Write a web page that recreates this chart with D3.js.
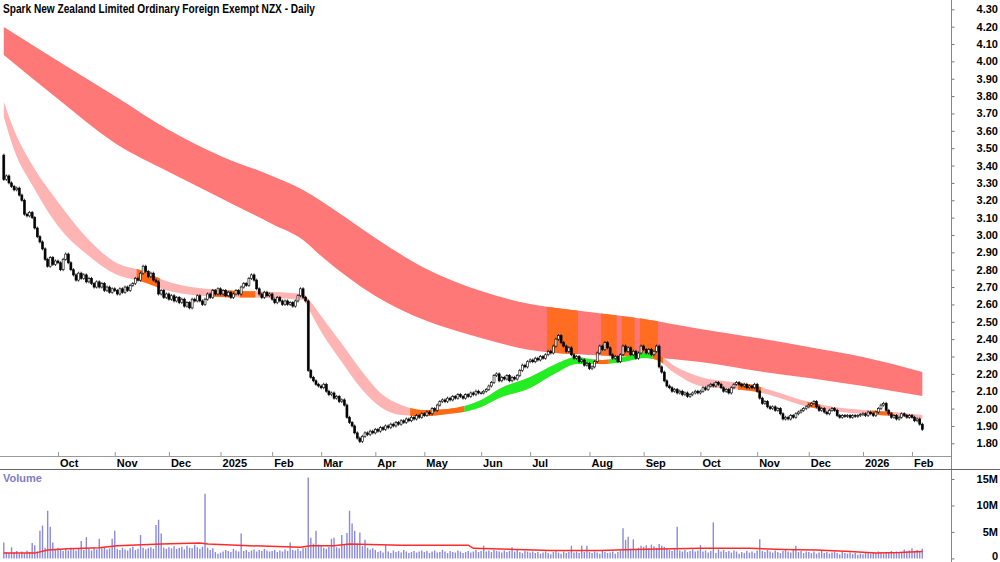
<!DOCTYPE html>
<html>
<head>
<meta charset="utf-8">
<script src="https://cdn.jsdelivr.net/npm/d3@7"></script>
<style>
  body { margin: 0; background: #fff; }
  svg { display: block; font-family: "Liberation Sans", Arial, sans-serif; }
</style>
</head>
<body>
<svg id="chart" width="1000" height="562"></svg>
<script>
// ---- data ----
var title = 'Spark New Zealand Limited Ordinary Foreign Exempt NZX - Daily';
var startDate = '2024-09-02', endDate = '2026-02-09';
var holidays = ['2024-10-28', '2024-12-25', '2024-12-26', '2025-01-01', '2025-01-02', '2025-01-27',
  '2025-02-06', '2025-04-18', '2025-04-21', '2025-04-25', '2025-06-02', '2025-06-20', '2025-10-27',
  '2025-12-25', '2025-12-26', '2026-01-01', '2026-01-02', '2026-01-26', '2026-02-06'];

var firstOpen = 3.46;
var closes = [
  // Sep 24
  3.32, 3.34, 3.30, 3.28, 3.26, 3.27, 3.23, 3.20, 3.12, 3.11, 3.13, 3.10, 3.04, 2.99, 2.96, 2.92, 2.86, 2.82, 2.87, 2.83, 2.85,
  // Oct
  2.84, 2.80, 2.86, 2.89, 2.84, 2.80, 2.77, 2.74, 2.78, 2.75, 2.77, 2.73, 2.75, 2.72, 2.70, 2.73, 2.70, 2.72, 2.68, 2.70, 2.67, 2.69,
  // Nov
  2.68, 2.66, 2.69, 2.67, 2.70, 2.68, 2.71, 2.72, 2.75, 2.74, 2.78, 2.82, 2.79, 2.76, 2.78, 2.74, 2.73, 2.66, 2.68, 2.64, 2.66,
  // Dec
  2.63, 2.65, 2.62, 2.64, 2.61, 2.63, 2.59, 2.61, 2.58, 2.63, 2.62, 2.65, 2.62, 2.60, 2.63, 2.66, 2.64, 2.68, 2.66, 2.69,
  // Jan 25
  2.66, 2.68, 2.65, 2.67, 2.64, 2.66, 2.68, 2.66, 2.70, 2.72, 2.71, 2.75, 2.77, 2.74, 2.69, 2.66, 2.64, 2.67, 2.65, 2.66,
  // Feb
  2.63, 2.61, 2.64, 2.62, 2.60, 2.62, 2.60, 2.61, 2.59, 2.62, 2.65, 2.69, 2.64, 2.62, 2.22, 2.18, 2.16, 2.14, 2.13,
  // Mar
  2.12, 2.14, 2.10, 2.08, 2.09, 2.06, 2.07, 2.04, 2.05, 2.02, 1.95, 1.92, 1.90, 1.86, 1.83, 1.81, 1.84, 1.86, 1.85, 1.87, 1.86,
  // Apr
  1.88, 1.87, 1.89, 1.88, 1.90, 1.89, 1.91, 1.90, 1.92, 1.91, 1.93, 1.92, 1.94, 1.93, 1.95, 1.94, 1.96, 1.95, 1.97,
  // May
  1.96, 1.98, 1.97, 2.00, 1.99, 2.02, 2.04, 2.05, 2.04, 2.06, 2.05, 2.07, 2.06, 2.08, 2.07, 2.06, 2.08, 2.07, 2.09, 2.08, 2.10, 2.09,
  // Jun
  2.09, 2.10, 2.11, 2.13, 2.15, 2.19, 2.20, 2.16, 2.18, 2.17, 2.19, 2.16, 2.18, 2.17, 2.19, 2.22, 2.25, 2.24, 2.27,
  // Jul
  2.28, 2.27, 2.29, 2.28, 2.30, 2.29, 2.31, 2.33, 2.32, 2.36, 2.40, 2.42, 2.38, 2.36, 2.33, 2.35, 2.31, 2.29, 2.30, 2.27, 2.28, 2.25, 2.26,
  // Aug
  2.23, 2.24, 2.27, 2.32, 2.36, 2.34, 2.38, 2.35, 2.31, 2.29, 2.30, 2.27, 2.31, 2.36, 2.33, 2.35, 2.31, 2.33, 2.29, 2.32, 2.36,
  // Sep
  2.34, 2.32, 2.34, 2.31, 2.33, 2.36, 2.24, 2.21, 2.16, 2.13, 2.12, 2.10, 2.11, 2.09, 2.10, 2.08, 2.09, 2.07, 2.08, 2.09, 2.10, 2.09,
  // Oct
  2.10, 2.12, 2.11, 2.13, 2.14, 2.13, 2.15, 2.14, 2.12, 2.10, 2.11, 2.09, 2.12, 2.14, 2.15, 2.14, 2.13, 2.14, 2.12, 2.13, 2.12, 2.14,
  // Nov
  2.10, 2.06, 2.03, 2.04, 2.01, 2.00, 2.01, 1.99, 2.00, 1.97, 1.94, 1.95, 1.94, 1.96, 1.95, 1.97, 1.98, 1.99, 2.00, 2.01,
  // Dec
  2.02, 2.03, 2.04, 2.01, 1.99, 2.00, 1.98, 1.97, 1.99, 2.00, 1.99, 1.96, 1.95, 1.96, 1.955, 1.96, 1.95, 1.96, 1.955, 1.96, 1.965,
  // Jan 26
  1.97, 1.96, 1.98, 1.97, 1.96, 1.98, 2.00, 2.02, 2.03, 1.99, 1.97, 1.95, 1.96, 1.94, 1.95, 1.97, 1.96, 1.95, 1.96,
  // Feb
  1.95, 1.93, 1.94, 1.91, 1.88
];

// volume in millions
var volumes = [
  3.0, 1.2, 1.0, 2.1, 1.1, 1.4, 0.9, 1.3, 1.0, 1.5, 1.2, 2.9, 2.5, 1.3, 5.2, 6.2, 2.0, 9.0, 6.0, 3.0, 1.8,
  2.0, 1.6, 1.4, 1.8, 1.5, 2.0, 1.7, 1.5, 1.9, 3.3, 1.6, 4.0, 1.8, 1.5, 2.1, 1.7, 3.7, 1.9, 2.2, 1.7, 1.9, 3.7,
  5.2, 1.8, 1.6, 2.0, 1.7, 1.5, 1.9, 2.2, 1.6, 1.8, 4.4, 2.0, 1.7, 1.9, 2.1, 1.8, 6.3, 7.3, 4.7, 2.0, 1.8,
  2.1, 1.9, 2.3, 1.8, 2.0, 2.2, 1.7, 2.4, 2.0, 1.9, 2.6, 2.1, 1.8, 2.2, 12.2, 2.0, 1.6, 1.9, 1.2, 0.9,
  1.1, 1.3, 1.6, 1.4, 1.2, 1.8, 1.5, 1.3, 4.7, 1.4, 1.6, 1.2, 1.5, 1.7, 1.3, 1.6, 1.4, 1.8, 1.5, 1.3,
  1.4, 1.6, 1.2, 1.5, 1.3, 1.7, 1.4, 3.0, 1.6, 1.5, 1.8, 1.4, 1.9, 2.0, 15.3, 3.9, 2.8, 5.2, 2.6,
  2.4, 2.0, 1.8, 2.2, 3.7, 3.9, 2.1, 1.9, 4.4, 2.5, 4.8, 9.0, 6.6, 5.2, 2.8, 4.9, 2.3, 3.5, 2.0, 1.7, 1.9,
  1.6, 1.2, 1.4, 1.1, 2.5, 1.3, 1.0, 1.5, 1.2, 1.4, 1.1, 1.6, 1.3, 1.0, 1.2, 1.4, 1.1, 1.3, 1.5,
  1.2, 1.4, 1.0, 1.3, 1.5, 1.1, 1.2, 1.6, 1.3, 1.0, 1.4, 1.2, 1.1, 1.5, 1.3, 1.0, 1.2, 1.4, 1.1, 1.3, 1.6, 1.2,
  1.4, 2.4, 1.3, 1.5, 1.2, 1.6, 1.4, 1.3, 1.1, 1.5, 1.2, 1.4, 2.1, 1.3, 1.6, 1.2, 1.0, 1.4, 1.3,
  1.1, 1.3, 1.0, 1.2, 0.9, 1.1, 1.3, 1.0, 0.8, 1.2, 1.4, 1.1, 0.9, 1.3, 1.0, 1.2, 2.4, 1.1, 1.3, 1.0, 2.4, 1.2, 2.4,
  1.2, 1.0, 1.3, 1.1, 0.9, 1.4, 1.2, 1.0, 1.1, 1.3, 0.9, 1.2, 1.5, 5.7, 3.5, 4.1, 1.8, 3.6, 1.6, 2.0, 2.4,
  2.2, 2.5, 1.9, 2.6, 2.3, 2.0, 2.7, 2.4, 2.2, 1.8, 1.6, 1.4, 1.7, 6.0, 1.5, 1.3, 1.6, 1.2, 1.4, 1.7, 1.3, 1.5,
  2.5, 1.3, 1.5, 1.1, 1.4, 6.8, 1.0, 1.7, 1.3, 1.6, 1.2, 1.4, 1.1, 1.5, 1.3, 0.9, 1.2, 1.0, 1.4, 1.1, 1.3, 1.0,
  1.5, 3.6, 1.4, 1.2, 1.6, 1.3, 1.1, 1.5, 1.2, 1.0, 1.4, 1.6, 1.3, 1.1, 1.7, 2.4, 1.2, 1.4, 1.0, 1.3,
  1.2, 1.0, 1.3, 0.9, 1.1, 1.4, 1.0, 1.2, 0.9, 1.1, 1.3, 1.0, 0.8, 1.2, 1.0, 0.9, 1.1, 0.8, 1.0, 0.7, 0.9,
  0.8, 1.0, 1.2, 0.9, 1.1, 1.0, 1.3, 1.1, 0.9, 1.2, 1.0, 1.4, 1.1, 1.3, 1.0, 1.2, 1.7, 1.3, 1.5,
  1.9, 1.4, 1.6, 1.3, 1.8
];

// volume moving average, read at bar numbers (millions)
var volMaBar = [0, 12, 17, 25, 37, 44, 61, 76, 79, 95, 115, 119, 128, 134, 154, 180, 182, 212, 231, 244, 270, 289, 302, 315, 328, 338, 347, 356];
var volMaVal = [1.0, 1.0, 1.6, 1.8, 2.0, 2.4, 2.7, 2.9, 2.7, 2.4, 2.1, 2.4, 2.4, 2.7, 2.5, 2.5, 1.9, 1.5, 1.5, 1.7, 1.9, 1.9, 1.7, 1.6, 1.3, 1.0, 1.1, 1.3];

// long-term band (upper / lower), read at bar numbers
var longBar   = [0, 21, 43, 64, 84, 104, 116, 123, 144, 163, 185, 204, 227, 248, 270, 292, 312, 333, 356];
var longUpper = [4.198, 4.002, 3.801, 3.605, 3.455, 3.340, 3.259, 3.196, 2.983, 2.810, 2.677, 2.602, 2.556, 2.516, 2.458, 2.407, 2.355, 2.297, 2.211];
var longLower = [4.037, 3.783, 3.530, 3.363, 3.213, 3.063, 2.971, 2.879, 2.649, 2.510, 2.407, 2.337, 2.309, 2.297, 2.268, 2.216, 2.176, 2.130, 2.072];

// short-term band (upper / lower), read at bar numbers
var shortBar   = [0, 4, 11, 21, 33, 43, 54, 64, 84, 104, 116, 119, 123, 131, 139, 146, 154, 163, 172, 180, 185, 192, 204, 214, 222, 227, 232, 240, 248, 253, 260, 270, 282, 292, 297, 312, 322, 333, 345, 356];
var shortUpper = [3.766, 3.605, 3.404, 3.190, 2.971, 2.845, 2.793, 2.729, 2.683, 2.672, 2.660, 2.614, 2.533, 2.373, 2.211, 2.090, 2.021, 1.992, 1.998, 2.021, 2.049, 2.113, 2.182, 2.257, 2.297, 2.286, 2.280, 2.297, 2.320, 2.314, 2.245, 2.182, 2.153, 2.130, 2.107, 2.038, 2.009, 1.992, 1.980, 1.963];
var shortLower = [3.680, 3.490, 3.288, 3.052, 2.879, 2.776, 2.729, 2.677, 2.643, 2.637, 2.626, 2.551, 2.442, 2.269, 2.107, 2.009, 1.963, 1.957, 1.969, 1.986, 2.009, 2.061, 2.119, 2.205, 2.257, 2.257, 2.257, 2.268, 2.291, 2.280, 2.205, 2.130, 2.113, 2.096, 2.078, 2.009, 1.986, 1.969, 1.957, 1.940];

// trend state of the bands, as bar ranges
var shortZones = [[52, 60, 'mixed'], [81, 89, 'mixed'], [92, 97, 'mixed'], [158, 178, 'mixed'],
  [179, 228, 'up'], [229, 234, 'mixed'], [235, 251, 'up'], [252, 255, 'mixed'],
  [285, 293, 'mixed'], [312, 316, 'mixed'], [337, 344, 'mixed']];
var longZones = [[211, 222, 'mixed'], [232, 237, 'mixed'], [240, 244, 'mixed'], [247, 253, 'mixed']];

var priceTicks = d3.range(18, 44).map(function(d) { return d / 10; });
var volTicks = [0, 5, 10, 15];

// ---- layout ----
var svg = d3.select('#chart');
var axisX = 951.5;
var priceBottom = 456, sepY = 469;

var colors = {
  longBand: '#ff7878', longMixed: '#ff6c22',
  shortDown: '#ffb4b4', shortUp: '#22ee22', shortMixed: '#ff6a14',
  volume: '#8a8ad8', volMa: '#ff2a2a', axis: '#999'
};

var parse = d3.timeParse('%Y-%m-%d'), fmt = d3.timeFormat('%Y-%m-%d');
var hol = new Set(holidays);
var dates = d3.timeDay.range(parse(startDate), d3.timeDay.offset(parse(endDate), 1))
  .filter(function(d) {
    var w = d.getDay();
    return w !== 0 && w !== 6 && !hol.has(fmt(d));
  });

var bars = closes.map(function(c, i) {
  return { i: i, o: i ? closes[i - 1] : firstOpen, c: c, v: volumes[i] * 1e6 };
});

var x = d3.scaleLinear().domain([0, dates.length - 1]).range([3.8, 922.3]);
var step = x(1) - x(0);
var y = d3.scaleLinear().domain([1.8, 4.3]).range([443.3, 9.3]);
var yv = d3.scaleLinear().domain([0, 15e6]).range([558.4, 479]);

var defs = svg.append('defs');
defs.append('clipPath').attr('id', 'priceClip')
  .append('rect').attr('x', 0).attr('y', 0).attr('width', axisX).attr('height', priceBottom);

// ---- bands ----
var area = d3.area()
  .x(function(d) { return x(d[0]); })
  .y0(function(d) { return y(d[2]); })
  .y1(function(d) { return y(d[1]); })
  .curve(d3.curveMonotoneX);

function drawBand(g, at, upper, lower, baseColor, zones, zoneColor, id) {
  var pts = at.map(function(b, k) { return [b, upper[k], lower[k]]; });
  g.append('path').datum(pts).attr('d', area).attr('fill', baseColor);
  zones.forEach(function(z, k) {
    var cid = id + k;
    defs.append('clipPath').attr('id', cid).append('rect')
      .attr('x', x(z[0]) - step / 2).attr('width', x(z[1]) - x(z[0]) + step)
      .attr('y', 0).attr('height', priceBottom);
    g.append('path').datum(pts).attr('d', area)
      .attr('clip-path', 'url(#' + cid + ')')
      .attr('fill', zoneColor(z[2]));
  });
}

var pricePanel = svg.append('g').attr('clip-path', 'url(#priceClip)');

drawBand(pricePanel, longBar, longUpper, longLower, colors.longBand, longZones,
  function() { return colors.longMixed; }, 'lz');
drawBand(pricePanel, shortBar, shortUpper, shortLower, colors.shortDown, shortZones,
  function(t) { return t === 'up' ? colors.shortUp : colors.shortMixed; }, 'sz');

// ---- candles ----
var bodyW = 2.0, wick = 1.5;
var candle = pricePanel.append('g').selectAll('g').data(bars).enter().append('g');
candle.append('line')
  .attr('x1', function(d) { return x(d.i); })
  .attr('x2', function(d) { return x(d.i); })
  .attr('y1', function(d) { return y(Math.max(d.o, d.c)) - wick; })
  .attr('y2', function(d) { return y(Math.min(d.o, d.c)) + wick; })
  .attr('stroke', '#000').attr('stroke-width', 0.8);
candle.append('rect')
  .attr('x', function(d) { return x(d.i) - bodyW / 2; })
  .attr('y', function(d) { return y(Math.max(d.o, d.c)); })
  .attr('width', bodyW)
  .attr('height', function(d) { return Math.max(0.8, Math.abs(y(d.o) - y(d.c))); })
  .attr('fill', function(d) { return d.c >= d.o ? '#fff' : '#000'; })
  .attr('stroke', '#000').attr('stroke-width', 0.6);

// ---- volume ----
svg.append('g').selectAll('line').data(bars).enter().append('line')
  .attr('x1', function(d) { return x(d.i); })
  .attr('x2', function(d) { return x(d.i); })
  .attr('y1', yv(0))
  .attr('y2', function(d) { return yv(d.v); })
  .attr('stroke', colors.volume).attr('stroke-width', 1.4);

var maPts = volMaBar.map(function(b, k) { return [b, volMaVal[k] * 1e6]; });
svg.append('path').datum(maPts)
  .attr('d', d3.line().x(function(d) { return x(d[0]); }).y(function(d) { return yv(d[1]); }))
  .attr('fill', 'none').attr('stroke', colors.volMa).attr('stroke-width', 1.5);

svg.append('text').attr('x', 3).attr('y', 482)
  .attr('font-size', 11).attr('font-weight', 'bold').attr('fill', '#7d7dc6')
  .text('Volume');

// ---- axes ----
var priceAxis = svg.append('g').attr('transform', 'translate(' + axisX + ',0)')
  .call(d3.axisRight(y).tickValues(priceTicks).tickFormat(d3.format('.2f')).tickSize(3).tickSizeOuter(0));
var volAxis = svg.append('g').attr('transform', 'translate(' + axisX + ',0)')
  .call(d3.axisRight(yv).tickValues(volTicks.map(function(v) { return v * 1e6; }))
    .tickFormat(function(v) { return v === 0 ? '0' : (v / 1e6) + 'M'; }).tickSize(3).tickSizeOuter(0));
[priceAxis, volAxis].forEach(function(a) {
  a.select('.domain').remove();
  a.selectAll('line').attr('stroke', '#777');
  a.selectAll('text').attr('x', 998 - axisX).attr('text-anchor', 'end')
    .attr('font-size', 11).attr('font-weight', 'bold').attr('fill', '#000')
    .attr('font-family', '"Liberation Sans", Arial, sans-serif');
});
// keep the bottom "0" inside the window
volAxis.selectAll('text').filter(function(v) { return v === 0; }).attr('dy', '0.1em');

// month ticks: first trading day of each month
var monthIdx = [];
dates.forEach(function(d, i) {
  if (i > 0 && d.getMonth() !== dates[i - 1].getMonth()) monthIdx.push(i);
});
var monthAxis = svg.append('g').attr('transform', 'translate(0,' + priceBottom + ')')
  .call(d3.axisBottom(x).tickValues(monthIdx).tickSize(-4).tickSizeOuter(0)
    .tickFormat(function(i) {
      var d = dates[i];
      return d.getMonth() === 0 ? d3.timeFormat('%Y')(d) : d3.timeFormat('%b')(d);
    }));
monthAxis.select('.domain').attr('stroke', colors.axis).attr('d', 'M0,0.5H' + axisX);
monthAxis.selectAll('line').attr('stroke', colors.axis);
monthAxis.selectAll('text').attr('y', 11).attr('dy', 0).attr('x', 1.5)
  .attr('text-anchor', 'start').attr('font-size', 11).attr('font-weight', 'bold').attr('fill', '#000')
  .attr('font-family', '"Liberation Sans", Arial, sans-serif');

// frame lines
svg.append('line').attr('x1', axisX).attr('x2', axisX).attr('y1', 0).attr('y2', 562)
  .attr('stroke', '#888');
svg.append('line').attr('x1', 0).attr('x2', 1000).attr('y1', sepY + 0.5).attr('y2', sepY + 0.5)
  .attr('stroke', '#666');

// title
svg.append('text').attr('x', 3).attr('y', 13)
  .attr('font-size', 12).attr('font-weight', 'bold').attr('fill', '#000')
  .attr('textLength', 312).attr('lengthAdjust', 'spacingAndGlyphs')
  .text(title);
</script>
</body>
</html>
